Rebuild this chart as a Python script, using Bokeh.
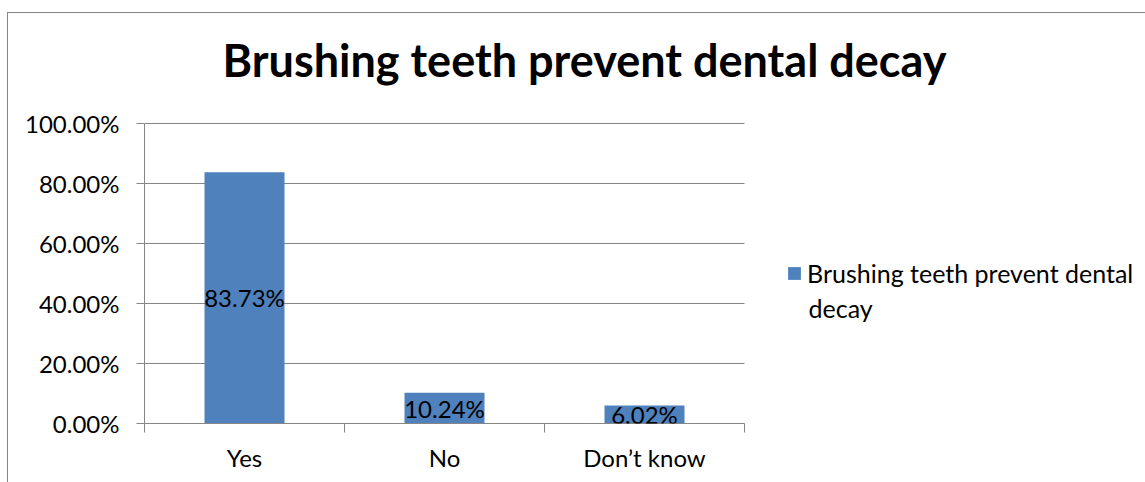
from bokeh.plotting import figure
from bokeh.models import (ColumnDataSource, FixedTicker, NumeralTickFormatter,
                          LabelSet, Label, Legend, LegendItem, Range1d)
from bokeh.core.properties import value
from bokeh.embed import file_html
from bokeh.resources import INLINE

# Survey answers
categories = ["Yes", "No", "Don\u2019t know"]
shares = [0.8373, 0.1024, 0.0602]
share_labels = ["83.73%", "10.24%", "6.02%"]
series_name = "Brushing teeth prevent dental decay"
y_ticks = [0.0, 0.2, 0.4, 0.6, 0.8, 1.0]

GREY = "#868686"
BLUE = "#4F81BD"
FONT = "Lato"

# canvas geometry (pixels)
FIG_W, FIG_H = 1138, 470
LEFT, BOTTOM = 136, 60
CAT_PX = 200          # width of one category slot
UNIT_PX = 300         # height of 100 %

frame_w = FIG_W - LEFT
frame_h = FIG_H - BOTTOM

positions = [i + 0.5 for i in range(len(categories))]
boundaries = list(range(len(categories) + 1))

source = ColumnDataSource(dict(
    x=positions,
    top=shares,
    mid=[v / 2 for v in shares],
    text=share_labels,
    cat=categories,
))

p = figure(width=FIG_W, height=FIG_H, margin=(12, 0, 0, 7),
           x_range=Range1d(0, frame_w / CAT_PX), y_range=Range1d(0, frame_h / UNIT_PX),
           output_backend="svg", toolbar_location=None,
           min_border_left=LEFT, min_border_right=0,
           min_border_top=0, min_border_bottom=BOTTOM)
p.styles = {"border-left": f"1px solid {GREY}", "border-top": f"1px solid {GREY}"}
p.outline_line_color = None
p.background_fill_color = "white"
p.border_fill_color = "white"
p.xgrid.visible = False
p.ygrid.visible = False

# horizontal gridlines across the category slots
p.segment(x0=0, x1=len(categories), y0=y_ticks, y1=y_ticks,
          line_color=GREY, line_width=1)

bars = p.vbar(x="x", top="top", width=0.4, source=source,
              fill_color=BLUE, line_color=None)

# y axis
yax = p.yaxis[0]
yax.bounds = (0, 1)
yax.ticker = FixedTicker(ticks=y_ticks)
yax.formatter = NumeralTickFormatter(format="0.00%")
yax.axis_line_color = GREY
yax.major_tick_line_color = GREY
yax.major_tick_in = 0
yax.major_tick_out = 8
yax.minor_tick_line_color = None
yax.major_label_text_font = FONT
yax.major_label_text_font_size = "24px"
yax.major_label_text_color = "black"
yax.major_label_standoff = 17

# x axis: labels at category centres, ticks at boundaries
xax = p.xaxis[0]
xax.bounds = (0, len(categories))
xax.ticker = FixedTicker(ticks=positions, minor_ticks=boundaries)
xax.major_label_overrides = {pos: c for pos, c in zip(positions, categories)}
xax.axis_line_color = GREY
xax.major_tick_line_color = None
xax.major_tick_in = 0
xax.major_tick_out = 0
xax.minor_tick_line_color = GREY
xax.minor_tick_in = 0
xax.minor_tick_out = 9
xax.major_label_text_font = FONT
xax.major_label_text_font_size = "24px"
xax.major_label_text_color = "black"
xax.major_label_standoff = 10

# value labels in the middle of each bar
p.add_layout(LabelSet(x="x", y="mid", text="text", source=source,
                      text_align="center", text_baseline="middle",
                      text_font=value(FONT), text_font_size=value("24px"),
                      text_color="black"))

# chart title
p.add_layout(Label(x=440, y=364, x_units="screen", y_units="screen",
                   text=series_name, text_align="center", text_baseline="middle",
                   text_font=FONT, text_font_style="bold", text_font_size="45px",
                   text_color="black"))

# legend, with the series name wrapped onto a second line
first_line, second_line = series_name.rsplit(" ", 1)
legend = Legend(items=[LegendItem(label=first_line, renderers=[bars])],
                location=(642, 135), padding=0, margin=0, spacing=0,
                glyph_width=16, glyph_height=16, label_standoff=5,
                label_text_font=FONT, label_text_font_size="25px",
                label_text_color="black",
                border_line_color=None, background_fill_alpha=0)
p.add_layout(legend)
p.add_layout(Label(x=664, y=116, x_units="screen", y_units="screen",
                   text=second_line, text_align="left", text_baseline="middle",
                   text_font=FONT, text_font_size="25px", text_color="black"))

open("out.html", "w").write(file_html(p, INLINE))
